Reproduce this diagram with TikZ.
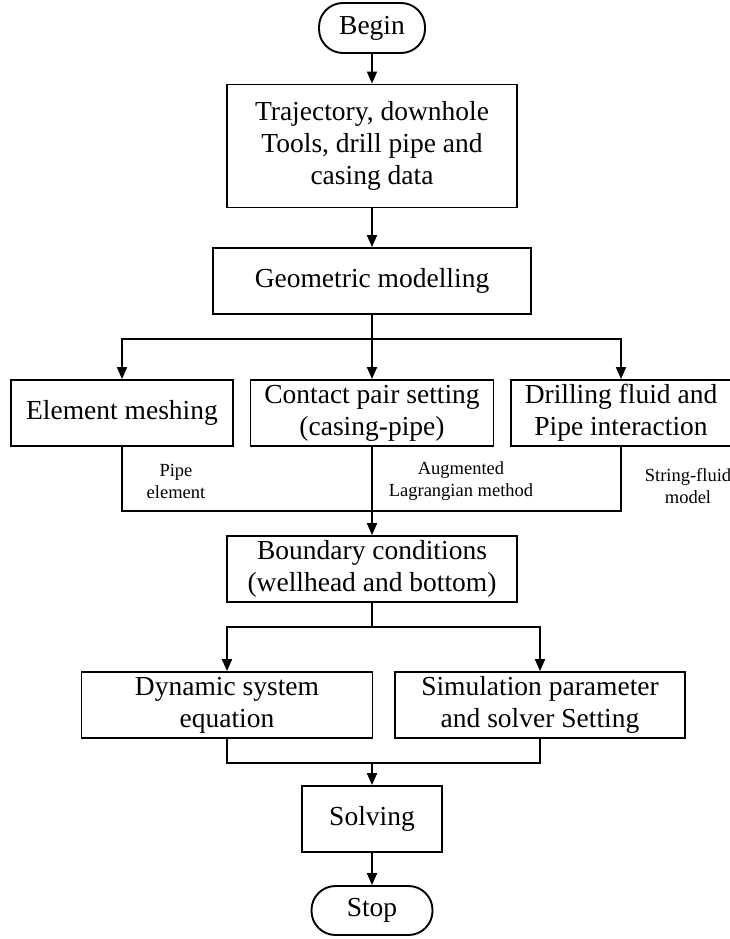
\documentclass[tikz,border=0pt]{standalone}
\usepackage{fontspec}
\setmainfont{Liberation Serif}
\usetikzlibrary{arrows.meta}
\tikzset{
  box/.style={draw, line width=1.9pt, rectangle, inner sep=0pt, align=center,
    font=\fontsize{27.5}{32}\selectfont},
  term/.style={box, rounded corners=24pt},
  lbl/.style={inner sep=0pt, align=center, font=\fontsize{18.5}{22}\selectfont},
  conn/.style={line width=1.9pt},
  arr/.style={conn, -{Triangle[width=10pt,length=12pt]}}
}
\begin{document}
\begin{tikzpicture}[x=1pt,y=-1pt]
\useasboundingbox (0,0) rectangle (730,939);
\node[term, minimum width=106pt, minimum height=50pt] (begin) at (372,28) {Begin};
\node[box, minimum width=290pt, minimum height=123pt] (traj) at (372,146) {Trajectory, downhole\\Tools, drill pipe and\\casing data};
\node[box, minimum width=318pt, minimum height=66pt] (geom) at (372,281) {Geometric modelling};
\node[box, minimum width=222pt, minimum height=66pt] (elem) at (122,413) {Element meshing};
\node[box, minimum width=243pt, minimum height=66pt] (contact) at (372,413) {Contact pair setting\\(casing-pipe)};
\node[box, minimum width=220pt, minimum height=66pt] (drill) at (621,413) {Drilling fluid and\\Pipe interaction};
\node[box, minimum width=290pt, minimum height=66pt] (bound) at (372,569) {Boundary conditions\\(wellhead and bottom)};
\node[box, minimum width=291pt, minimum height=66pt] (dyn) at (227,705) {Dynamic system\\equation};
\node[box, minimum width=290pt, minimum height=66pt] (sim) at (540,705) {Simulation parameter\\and solver Setting};
\node[box, minimum width=140pt, minimum height=66pt] (solve) at (372,819) {Solving};
\node[term, minimum width=121pt, minimum height=49pt] (stop) at (372,910.5) {Stop};

\node[lbl] (l1) at (176,481) {Pipe\\element};
\node[lbl] (l2) at (461,481) {Augmented\\Lagrangian method};
\node[lbl] (l3) at (688,486) {String-fluid\\model};

\coordinate (b1) at (372,339);
\coordinate (m1) at (372,511);
\coordinate (b2) at (372,627);
\coordinate (m2) at (372,763);

\draw[arr] (begin) -- (traj);
\draw[arr] (traj) -- (geom);
\draw[conn] (geom.south) -- (b1);
\draw[arr] (b1) -| (elem.north);
\draw[arr] (b1) -| (drill.north);
\draw[arr] (b1) -- (contact.north);
\draw[conn] (elem.south) |- (m1) -| (drill.south);
\draw[arr] (contact.south) -- (bound.north);
\draw[conn] (bound.south) -- (b2);
\draw[arr] (b2) -| (dyn.north);
\draw[arr] (b2) -| (sim.north);
\draw[conn] (dyn.south) |- (m2) -| (sim.south);
\draw[arr] (m2) -- (solve.north);
\draw[arr] (solve) -- (stop);
\end{tikzpicture}
\end{document}
